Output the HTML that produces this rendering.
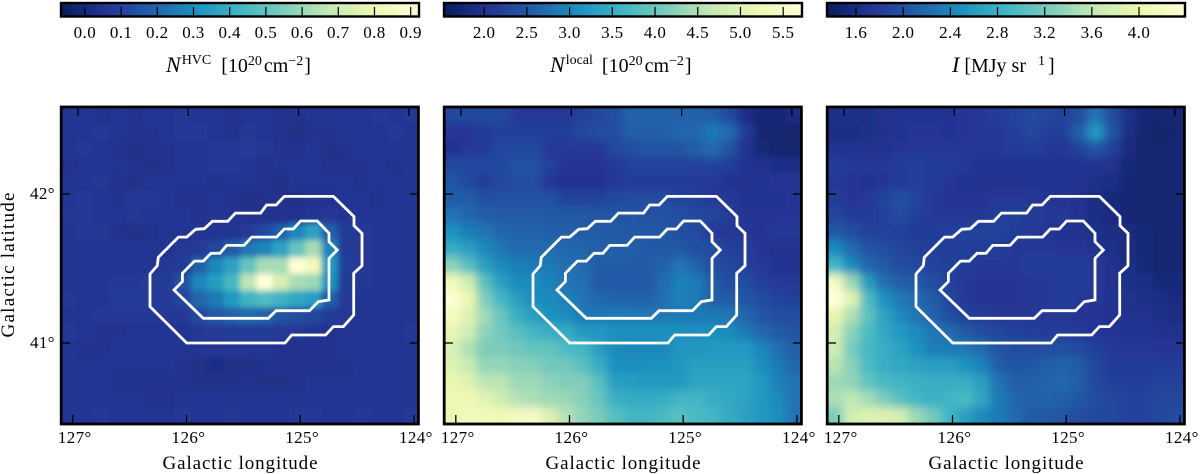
<!DOCTYPE html>
<html lang="en">
<head>
<meta charset="utf-8">
<title>HVC column density, local column density and dust intensity maps</title>
<style>
html,body{margin:0;padding:0;background:#fff;width:1200px;height:474px;overflow:hidden}
svg{display:block;font-family:"Liberation Serif",serif;fill:#000}
.tick{font-size:17px;letter-spacing:.4px}
.lab{font-size:19px}
.title{font-size:20px}
</style>
</head>
<body>
<svg id="chart" width="1200" height="474" viewBox="0 0 1200 474" xmlns="http://www.w3.org/2000/svg">
<defs>
<filter id="soft" filterUnits="userSpaceOnUse" x="0" y="60" width="1200" height="414"><feGaussianBlur stdDeviation="4.5"/></filter>
<filter id="softCore" filterUnits="userSpaceOnUse" x="0" y="60" width="1200" height="414"><feGaussianBlur stdDeviation="3"/></filter>
<linearGradient id="cmap" x1="0" x2="1" y1="0" y2="0"></linearGradient>
</defs>

<text class="title" x="166" y="72"><tspan font-style="italic" font-size="22">N</tspan><tspan font-size="14" dy="-8" dx="1">HVC</tspan><tspan dy="8" dx="10">[10</tspan><tspan font-size="14" dy="-7">20</tspan><tspan dy="7" dx="2">cm</tspan><tspan font-size="14" dy="-7">−2</tspan><tspan dy="7" dx="1">]</tspan></text>
<text class="title" x="550" y="72"><tspan font-style="italic" font-size="22">N</tspan><tspan font-size="14" dy="-8" dx="1">local</tspan><tspan dy="8" dx="9">[10</tspan><tspan font-size="14" dy="-7">20</tspan><tspan dy="7" dx="2">cm</tspan><tspan font-size="14" dy="-7">−2</tspan><tspan dy="7" dx="1">]</tspan></text>
<text class="title" x="952" y="72"><tspan font-style="italic" font-size="22">I</tspan><tspan dx="5">[MJy sr</tspan><tspan font-size="14" dy="-7" dx="12">1</tspan><tspan dy="7" dx="3">]</tspan></text>

<text class="lab" text-anchor="middle" transform="translate(14,265) rotate(-90)" textLength="145" lengthAdjust="spacing">Galactic latitude</text>
<text class="lab" x="240" y="469" text-anchor="middle" textLength="155" lengthAdjust="spacing">Galactic longitude</text>
<text class="lab" x="623" y="469" text-anchor="middle" textLength="155" lengthAdjust="spacing">Galactic longitude</text>
<text class="lab" x="1006" y="469" text-anchor="middle" textLength="155" lengthAdjust="spacing">Galactic longitude</text>
</svg>

<script>
const cmapColors = ["#081d58","#253494","#225ea8","#1d91c0","#41b6c4","#7fcdbb","#c7e9b4","#edf8b1","#ffffd9"];

// Column density of the high-velocity cloud, 10^20 cm^-2
const hvcValues = [
[.055,.055,.045,.055,.045,.055,.055,.065,.055,.055,.045,.055,.055,.045,.045,.055,.055,.055,.055,.065,.055,.065],
[.055,.055,.065,.055,.045,.045,.055,.065,.065,.055,.045,.065,.055,.045,.035,.045,.045,.055,.055,.055,.065,.055],
[.055,.065,.055,.045,.035,.045,.045,.055,.055,.065,.065,.075,.065,.045,.045,.055,.035,.045,.055,.055,.055,.055],
[.045,.055,.055,.055,.045,.035,.045,.055,.055,.065,.065,.055,.045,.055,.055,.055,.045,.045,.045,.055,.045,.055],
[.055,.055,.065,.045,.035,.055,.055,.055,.055,.045,.055,.055,.045,.035,.055,.055,.055,.055,.045,.055,.055,.055],
[.055,.065,.055,.045,.065,.065,.055,.045,.045,.055,.045,.035,.045,.045,.035,.045,.045,.055,.055,.045,.055,.055],
[.065,.065,.055,.055,.065,.055,.055,.055,.045,.055,.055,.045,.045,.045,.045,.055,.065,.055,.055,.055,.055,.055],
[.055,.065,.065,.045,.035,.045,.055,.055,.055,.055,.055,.075,.12,.18,.28,.36,.18,.085,.065,.055,.055,.055],
[.055,.055,.055,.055,.055,.055,.055,.065,.075,.11,.17,.24,.28,.36,.5,.62,.28,.085,.065,.055,.055,.055],
[.055,.055,.055,.055,.055,.055,.065,.085,.18,.28,.36,.5,.62,.62,.92,.82,.33,.095,.065,.055,.055,.055],
[.055,.055,.055,.065,.065,.075,.085,.15,.28,.34,.44,.66,.98,.72,.62,.6,.31,.085,.065,.055,.055,.055],
[.065,.055,.055,.075,.085,.075,.075,.11,.2,.25,.33,.42,.46,.42,.38,.34,.18,.075,.055,.055,.055,.055],
[.055,.055,.065,.065,.065,.065,.065,.065,.12,.17,.19,.21,.19,.15,.13,.11,.085,.065,.055,.055,.055,.055],
[.065,.055,.045,.045,.055,.055,.055,.055,.065,.075,.085,.085,.085,.065,.065,.055,.045,.055,.055,.055,.055,.065],
[.055,.045,.045,.055,.055,.055,.055,.055,.055,.055,.055,.055,.055,.045,.045,.045,.045,.055,.055,.055,.055,.055],
[.055,.055,.055,.055,.055,.055,.055,.045,.035,.025,.035,.035,.045,.045,.045,.045,.045,.045,.055,.055,.055,.055],
[.055,.055,.055,.045,.045,.045,.045,.045,.035,.035,.035,.045,.035,.035,.045,.055,.055,.055,.055,.055,.055,.055],
[.055,.055,.055,.055,.055,.045,.045,.055,.055,.055,.055,.055,.055,.055,.055,.055,.055,.055,.055,.055,.055,.055],
[.055,.055,.065,.055,.055,.055,.055,.065,.055,.055,.065,.055,.055,.055,.065,.065,.055,.055,.065,.055,.055,.065]
];

// Local column density, 10^20 cm^-2
const localValues = [
[2.3,2.3,2.3,2.3,2.12,2.12,2.12,2.12,2.2,2.3,2.37,2.62,2.62,2.62,2.62,2.62,2.54,2.33,1.95,1.78,1.78,1.87],
[2.07,2.07,2.16,2.2,2.2,2.2,2.2,2.2,2.3,2.37,2.37,2.58,2.58,2.58,2.66,2.66,2.87,2.7,2.16,1.78,1.74,1.74],
[2.03,2.12,2.16,2.33,2.33,2.33,2.12,2.12,2.12,2.12,2.33,2.37,2.45,2.45,2.45,2.58,2.7,2.45,2.03,1.82,1.74,1.74],
[2.33,2.33,2.33,2.33,2.41,2.41,2.24,2.07,2.07,2.07,2.12,2.24,2.24,2.24,2.24,2.24,2.24,2.16,2.03,1.99,1.95,1.95],
[2.45,2.33,2.16,2.33,2.37,2.37,2.07,2.03,2.03,2.03,2.12,2.16,2.16,2.16,2.16,2.12,2.12,2.03,1.99,2.03,2.07,2.07],
[2.54,2.54,2.41,2.41,2.41,2.41,2.41,2.24,2.24,2.24,2.33,2.37,2.37,2.37,2.24,2.24,2.12,2.12,2.03,2.03,2.03,2.07],
[2.79,2.66,2.58,2.54,2.54,2.54,2.5,2.5,2.5,2.45,2.45,2.45,2.41,2.41,2.41,2.28,2.28,2.16,2.07,2.07,2.07,2.07],
[3.12,2.91,2.79,2.66,2.62,2.62,2.58,2.58,2.54,2.54,2.54,2.5,2.5,2.5,2.37,2.37,2.12,2.12,2.07,2.07,2.12,2.12],
[3.46,3.29,3.04,2.79,2.7,2.7,2.7,2.66,2.66,2.58,2.58,2.58,2.5,2.5,2.5,2.37,2.37,2.2,2.2,2.07,1.99,1.99],
[4.25,3.83,3.29,3.04,2.91,2.87,2.87,2.75,2.7,2.54,2.54,2.54,2.54,2.62,2.79,2.62,2.37,2.28,2.2,2.12,2.03,2.03],
[5.3,4.8,3.83,3.29,3.04,3.04,2.95,2.79,2.75,2.5,2.5,2.5,2.5,2.7,2.95,2.87,2.54,2.37,2.37,2.2,2.12,2.12],
[5.64,5.2,4.15,3.63,3.29,3.04,3.04,2.95,2.79,2.66,2.62,2.62,2.62,2.75,2.95,2.87,2.58,2.54,2.49,2.37,2.24,2.2],
[5.4,5.0,4.4,3.96,3.5,3.29,3.12,3.04,2.87,2.87,2.87,2.87,2.83,2.83,2.87,2.87,2.87,2.79,2.66,2.49,2.37,2.37],
[5.1,4.8,4.25,4.04,3.83,3.63,3.5,3.46,3.21,3.21,3.12,3.12,3.12,3.12,3.08,3.08,3.08,3.04,2.87,2.66,2.54,2.45],
[4.9,4.5,4.13,4.13,4.04,3.92,3.92,3.71,3.63,3.29,3.04,3.0,3.0,3.0,3.16,3.16,3.21,3.21,3.21,3.0,2.75,2.58],
[5.0,4.7,4.3,4.3,4.21,4.21,4.04,4.04,3.83,3.5,3.12,3.08,3.12,3.12,3.16,3.29,3.29,3.29,3.29,3.08,2.87,2.66],
[5.15,5.0,4.6,4.6,4.38,4.38,4.25,4.17,4.17,3.83,3.29,3.25,3.21,3.21,3.21,3.37,3.37,3.37,3.37,3.21,2.95,2.79],
[5.25,5.25,5.05,4.8,4.55,4.46,4.38,4.34,4.21,3.96,3.54,3.46,3.46,3.5,3.63,3.63,3.5,3.42,3.33,3.21,3.04,2.79],
[5.15,5.35,5.3,5.25,5.35,5.4,4.95,4.55,4.3,4.1,3.83,3.63,3.63,3.71,3.83,3.71,3.63,3.46,3.33,3.21,3.08,2.79]
];

// Far-infrared intensity, MJy/sr
const intensityValues = [
[1.66,1.66,1.66,1.69,1.72,1.72,1.72,1.72,1.75,1.78,1.81,1.87,1.93,1.9,1.87,1.96,2.27,1.96,1.66,1.54,1.51,1.51],
[1.63,1.63,1.66,1.69,1.72,1.75,1.75,1.72,1.75,1.78,1.78,1.84,1.9,1.84,1.84,2.11,2.56,2.02,1.63,1.51,1.48,1.51],
[1.72,1.72,1.69,1.72,1.75,1.78,1.78,1.78,1.78,1.78,1.78,1.81,1.81,1.78,1.75,1.87,2.02,1.84,1.6,1.51,1.51,1.54],
[1.81,1.78,1.78,1.78,1.81,1.84,1.81,1.81,1.78,1.72,1.72,1.72,1.72,1.72,1.72,1.72,1.72,1.69,1.57,1.51,1.51,1.54],
[1.78,1.75,1.72,1.75,1.81,1.85,1.81,1.75,1.72,1.69,1.69,1.69,1.72,1.72,1.72,1.69,1.66,1.63,1.54,1.51,1.51,1.54],
[1.81,1.75,1.78,1.88,1.98,1.88,1.78,1.75,1.75,1.75,1.78,1.78,1.78,1.75,1.75,1.69,1.63,1.57,1.54,1.51,1.51,1.54],
[1.9,1.81,1.81,1.86,1.94,1.85,1.78,1.78,1.78,1.78,1.84,1.84,1.81,1.78,1.78,1.72,1.63,1.6,1.54,1.51,1.51,1.54],
[2.08,1.96,1.87,1.87,1.84,1.81,1.81,1.84,1.87,1.87,1.87,1.81,1.78,1.75,1.72,1.69,1.66,1.63,1.6,1.57,1.51,1.51],
[2.45,2.2,2.02,1.96,1.9,1.84,1.84,1.84,1.84,1.81,1.81,1.78,1.78,1.78,1.75,1.75,1.72,1.66,1.6,1.57,1.51,1.51],
[2.87,2.45,2.17,2.08,1.96,1.93,1.87,1.84,1.81,1.78,1.78,1.78,1.81,1.81,1.81,1.81,1.78,1.69,1.63,1.57,1.51,1.51],
[4.15,3.4,2.6,2.23,2.11,2.08,1.96,1.87,1.78,1.75,1.75,1.75,1.78,1.78,1.81,1.81,1.78,1.69,1.66,1.63,1.57,1.57],
[4.39,3.9,2.95,2.51,2.3,2.2,2.08,1.9,1.78,1.75,1.75,1.75,1.78,1.78,1.81,1.78,1.75,1.72,1.69,1.66,1.63,1.6],
[3.95,3.5,3.05,2.66,2.45,2.27,2.14,1.96,1.84,1.81,1.78,1.78,1.78,1.78,1.78,1.75,1.75,1.72,1.69,1.69,1.66,1.63],
[3.75,3.3,2.95,2.72,2.57,2.45,2.3,2.2,2.08,1.96,1.9,1.87,1.84,1.81,1.81,1.78,1.75,1.75,1.72,1.72,1.69,1.69],
[3.7,3.2,2.9,2.78,2.66,2.51,2.36,2.33,2.3,2.2,2.02,1.96,1.96,1.98,2.0,1.95,1.84,1.78,1.78,1.78,1.75,1.75],
[3.55,3.3,2.95,2.78,2.72,2.66,2.63,2.63,2.51,2.39,2.11,2.02,2.05,2.1,2.15,2.08,1.9,1.81,1.81,1.81,1.81,1.81],
[3.4,3.35,3.08,2.93,2.87,2.81,2.78,2.78,2.78,2.63,2.27,2.11,2.1,2.15,2.18,2.1,1.93,1.84,1.84,1.84,1.87,1.87],
[3.5,3.6,3.45,3.24,3.02,2.87,2.81,2.87,2.93,2.69,2.33,2.17,2.14,2.14,2.12,2.05,1.96,1.9,1.87,1.87,1.9,1.9],
[3.24,3.75,3.85,3.85,3.75,3.4,3.18,2.87,2.63,2.45,2.33,2.2,2.08,2.08,2.02,1.96,1.93,1.9,1.87,1.87,1.9,1.96]
];

const hvcRange = [-0.066, 0.923];
const localRange = [1.53, 5.72];
const intensityRange = [1.354, 4.39];

const hvcTicks = ["0.0","0.1","0.2","0.3","0.4","0.5","0.6","0.7","0.8","0.9"];
const localTicks = ["2.0","2.5","3.0","3.5","4.0","4.5","5.0","5.5"];
const intensityTicks = ["1.6","2.0","2.4","2.8","3.2","3.6","4.0"];

const lonTicks = [127, 126, 125, 124];
const latTicks = [42, 41];

// Contours as [Galactic longitude, Galactic latitude] in degrees
const outerContour = [[126.327,41.463],[126.262,41.519],[126.253,41.575],[126.076,41.711],[126.003,41.711],[125.923,41.763],[125.847,41.767],[125.776,41.817],[125.641,41.817],[125.573,41.872],[125.350,41.872],[125.297,41.926],[125.214,41.926],[125.141,41.984],[124.708,41.984],[124.526,41.848],[124.526,41.787],[124.455,41.736],[124.455,41.519],[124.529,41.468],[124.529,41.188],[124.620,41.110],[124.708,41.110],[124.776,41.054],[125.076,41.054],[125.135,41.000],[126.003,41.000],[126.327,41.244]];
const innerContour = [[126.115,41.356],[126.041,41.412],[126.041,41.468],[125.935,41.550],[125.856,41.550],[125.788,41.602],[125.709,41.602],[125.650,41.655],[125.497,41.655],[125.429,41.711],[125.209,41.711],[125.141,41.765],[125.062,41.765],[124.997,41.819],[124.850,41.819],[124.747,41.736],[124.747,41.680],[124.673,41.624],[124.747,41.568],[124.747,41.289],[124.841,41.277],[124.920,41.217],[125.214,41.217],[125.282,41.166],[125.856,41.166]];

const NS = "http://www.w3.org/2000/svg";
const chart = document.getElementById("chart");
const PANEL_W = 358, PANEL_H = 317, PANEL_TOP = 107;

function el(tag, attrs, parent) {
  const node = document.createElementNS(NS, tag);
  for (const key in attrs) node.setAttribute(key, attrs[key]);
  parent.appendChild(node);
  return node;
}
function rgb(hex) {
  return [1, 3, 5].map(i => parseInt(hex.substr(i, 2), 16));
}
function colorAt(t) {
  const c = Math.max(0, Math.min(1, t)) * (cmapColors.length - 1);
  const i = Math.min(cmapColors.length - 2, Math.floor(c));
  const a = rgb(cmapColors[i]), b = rgb(cmapColors[i + 1]), f = c - i;
  return "rgb(" + a.map((v, k) => Math.round(v + (b[k] - v) * f)).join(",") + ")";
}
// Axis functions (offset = panel left edge minus first panel left edge)
function lonBottom(lon, offset) { return 186.5 + (126 - lon) * 113.7 + offset; }
function lonTop(lon, offset) { return 188.3 + (126 - lon) * 110.3 + offset; }
function lonContour(lon, offset) { return 187 + (126 - lon) * 113.3 + offset; }
function latToY(lat) { return 194 + (42 - lat) * 149; }

const gradient = document.getElementById("cmap");
cmapColors.forEach((color, i) => {
  const stop = el("stop", { offset: i / (cmapColors.length - 1), "stop-color": color }, gradient);
  
  
});

function drawPanel(key, left, values, range, ticks, blurId) {
  const offset = left - 61;
  const scale = v => (v - range[0]) / (range[1] - range[0]);
  const nRows = values.length, nCols = values[0].length;
  const cellW = PANEL_W / nCols, cellH = PANEL_H / nRows;

  const clip = el("clipPath", { id: "clip-" + key }, chart.querySelector("defs"));
  
  
  const clipRect = el("rect", { x: left, y: PANEL_TOP, width: PANEL_W, height: PANEL_H }, clip);
  
  

  const clipGroup = el("g", { "clip-path": "url(#clip-" + key + ")" }, chart);
  
  
  const cells = el("g", { filter: "url(#" + blurId + ")" }, clipGroup);
  
  

  values.forEach((row, r) => row.forEach((v, c) => {
    const pad = 30;
    const x0 = left + c * cellW - (c === 0 ? pad : 0);
    const x1 = left + (c + 1) * cellW + (c === nCols - 1 ? pad : 0.6);
    const y0 = PANEL_TOP + r * cellH - (r === 0 ? pad : 0);
    const y1 = PANEL_TOP + (r + 1) * cellH + (r === nRows - 1 ? pad : 0.6);
    const cell = el("rect", { x: x0, y: y0, width: x1 - x0, height: y1 - y0, fill: colorAt(scale(v)) }, cells);
    
    
  }));

  [[outerContour, "outer"], [innerContour, "inner"]].forEach(([pts, label]) => {
    const d = pts.map(p => lonContour(p[0], offset).toFixed(1) + "," + latToY(p[1]).toFixed(1)).join(" ");
    const poly = el("polygon", { points: d, fill: "none", stroke: "#fff", "stroke-width": 2.8 }, clipGroup);
    
    
  });

  const frame = el("rect", { x: left + 0.2, y: PANEL_TOP, width: PANEL_W - 0.8, height: PANEL_H, fill: "none", stroke: "#000", "stroke-width": 2.8 }, chart);
  
  

  const axisTicks = el("g", { stroke: "#000", "stroke-width": 1.3 }, chart);
  
  

  lonTicks.forEach(lon => {
    const xb = lonBottom(lon, offset), xt = lonTop(lon, offset);
    const tb = el("line", { x1: xb, x2: xb, y1: PANEL_TOP + PANEL_H, y2: PANEL_TOP + PANEL_H - 9 }, axisTicks);
    
    
    const tt = el("line", { x1: xt, x2: xt, y1: PANEL_TOP, y2: PANEL_TOP + 9 }, axisTicks);
    
    
    const label = el("text", { x: xb + 2, y: 443, "text-anchor": "middle", class: "tick" }, chart);
    
    
    label.textContent = lon + "°";
  });

  latTicks.forEach(lat => {
    const y = latToY(lat);
    const tl = el("line", { x1: left, x2: left + 9, y1: y, y2: y }, axisTicks);
    
    
    const tr = el("line", { x1: left + PANEL_W, x2: left + PANEL_W - 9, y1: y, y2: y }, axisTicks);
    
    
    if (key === "hvc") {
      const label = el("text", { x: 55, y: y + 5, "text-anchor": "end", class: "tick" }, chart);
      
      
      label.textContent = lat + "°";
    }
  });

  // Colorbar
  const bar = el("rect", { x: left, y: 3, width: PANEL_W, height: 13.5, fill: "url(#cmap)", stroke: "#000", "stroke-width": 2.4 }, chart);
  
  
  ticks.forEach(text => {
    const x = left + scale(parseFloat(text)) * PANEL_W;
    const t = el("line", { x1: x, x2: x, y1: 7, y2: 16, stroke: "#000", "stroke-width": 1.2 }, chart);
    
    
    const label = el("text", { x: x, y: 38, "text-anchor": "middle", class: "tick" }, chart);
    
    
    label.textContent = text;
  });
}

drawPanel("hvc", 61, hvcValues, hvcRange, hvcTicks, "softCore");
drawPanel("local", 444, localValues, localRange, localTicks, "soft");
drawPanel("intensity", 827, intensityValues, intensityRange, intensityTicks, "soft");
</script>
</body>
</html>
